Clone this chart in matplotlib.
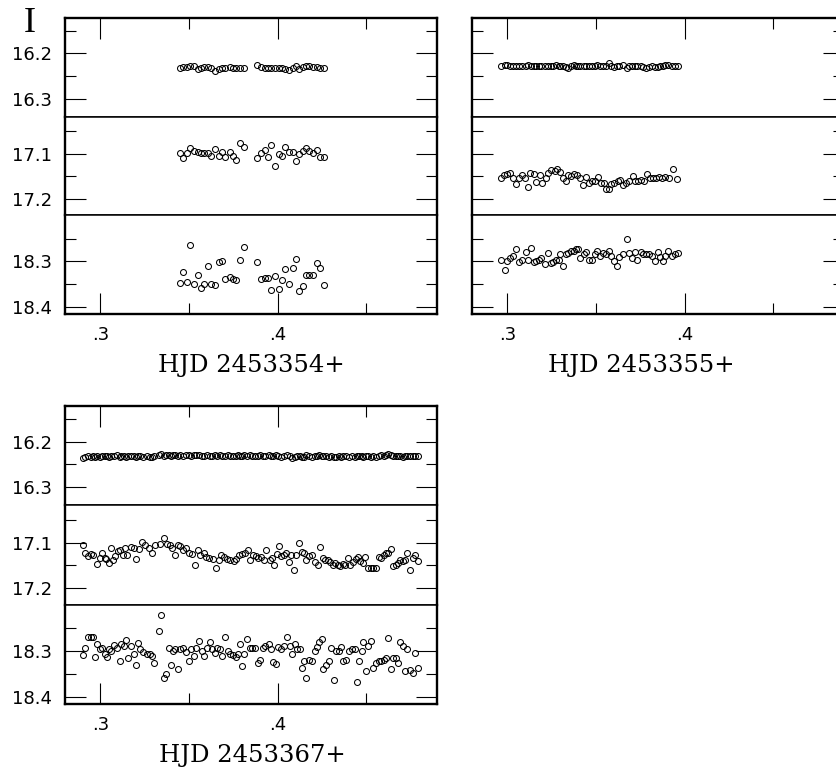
import matplotlib
matplotlib.use("Agg")
import matplotlib.pyplot as plt
from matplotlib.ticker import MultipleLocator, FixedLocator, FuncFormatter, NullFormatter

# ---------------- data ----------------
# Night 1: HJD 2453354+
n1_t = [0.3451, 0.3466, 0.3489, 0.3508, 0.3526, 0.3549, 0.3568, 0.3586, 0.3605, 0.3624,
        0.3648, 0.3667, 0.3686, 0.3705, 0.3729, 0.3748, 0.3767, 0.3786, 0.3808,
        0.3883, 0.3906, 0.3927, 0.3945, 0.3964, 0.3987, 0.4006, 0.4024, 0.4043, 0.4062,
        0.4085, 0.4103, 0.4122, 0.4143, 0.4162, 0.4180, 0.4199, 0.4222, 0.4241, 0.4263]
n1_star1 = [16.232, 16.231, 16.230, 16.228, 16.227, 16.235, 16.232, 16.231, 16.231, 16.233,
            16.238, 16.234, 16.232, 16.232, 16.231, 16.232, 16.232, 16.232, 16.232,
            16.226, 16.231, 16.232, 16.232, 16.232, 16.232, 16.233, 16.233, 16.234, 16.236,
            16.232, 16.229, 16.234, 16.230, 16.229, 16.229, 16.231, 16.231, 16.232, 16.232]
n1_star2 = [17.099, 17.110, 17.099, 17.087, 17.093, 17.097, 17.099, 17.099, 17.099, 17.106,
            17.090, 17.105, 17.097, 17.107, 17.097, 17.105, 17.113, 17.077, 17.086,
            17.109, 17.099, 17.091, 17.107, 17.081, 17.128, 17.101, 17.105, 17.084, 17.097,
            17.095, 17.117, 17.100, 17.093, 17.088, 17.093, 17.099, 17.092, 17.107, 17.107]
n1_star3 = [18.348, 18.324, 18.346, 18.263, 18.350, 18.330, 18.358, 18.350, 18.310, 18.350,
            18.352, 18.302, 18.299, 18.339, 18.335, 18.339, 18.341, 18.296, 18.268,
            18.302, 18.339, 18.337, 18.337, 18.363, 18.332, 18.361, 18.341, 18.316, 18.350,
            18.314, 18.294, 18.365, 18.355, 18.330, 18.330, 18.330, 18.304, 18.315, 18.352]

# Night 2: HJD 2453355+
n2_t = [0.2966, 0.2985, 0.2998, 0.3017, 0.3032, 0.3051, 0.3066, 0.3084, 0.3103, 0.3118,
        0.3133, 0.3148, 0.3163, 0.3178, 0.3191, 0.3210, 0.3229, 0.3244, 0.3257, 0.3272,
        0.3291, 0.3298, 0.3313, 0.3328, 0.3343, 0.3360, 0.3373, 0.3388, 0.3400, 0.3411,
        0.3430, 0.3445, 0.3460, 0.3475, 0.3493, 0.3508, 0.3524, 0.3539, 0.3557, 0.3572,
        0.3584, 0.3602, 0.3621, 0.3632, 0.3655, 0.3674, 0.3689, 0.3704, 0.3719, 0.3734,
        0.3752, 0.3767, 0.3782, 0.3797, 0.3816, 0.3831, 0.3848, 0.3861, 0.3876, 0.3891,
        0.3908, 0.3929, 0.3948, 0.3961]
n2_star1 = [16.228, 16.226, 16.225, 16.227, 16.228, 16.228, 16.228, 16.228, 16.227, 16.225,
            16.228, 16.228, 16.228, 16.228, 16.228, 16.228, 16.227, 16.228, 16.227, 16.225,
            16.228, 16.229, 16.229, 16.231, 16.233, 16.229, 16.226, 16.229, 16.229, 16.228,
            16.228, 16.228, 16.228, 16.227, 16.228, 16.226, 16.228, 16.228, 16.227, 16.222,
            16.227, 16.230, 16.228, 16.229, 16.225, 16.232, 16.229, 16.228, 16.228, 16.228,
            16.229, 16.231, 16.232, 16.230, 16.229, 16.230, 16.231, 16.229, 16.228, 16.226,
            16.226, 16.229, 16.228, 16.228]
n2_star3 = [18.296, 18.319, 18.298, 18.292, 18.287, 18.273, 18.301, 18.297, 18.279, 18.296,
            18.271, 18.301, 18.299, 18.296, 18.292, 18.305, 18.282, 18.303, 18.301, 18.296,
            18.297, 18.283, 18.310, 18.284, 18.281, 18.277, 18.276, 18.273, 18.273, 18.292,
            18.283, 18.279, 18.296, 18.297, 18.284, 18.277, 18.287, 18.282, 18.284, 18.276,
            18.288, 18.299, 18.310, 18.290, 18.283, 18.251, 18.281, 18.293, 18.279, 18.296,
            18.279, 18.284, 18.283, 18.284, 18.288, 18.299, 18.279, 18.290, 18.299, 18.288,
            18.277, 18.288, 18.283, 18.281]
n2_t2 = [0.2966, 0.2979, 0.2998, 0.3017, 0.3032, 0.3051, 0.3066, 0.3084, 0.3099, 0.3118,
         0.3130, 0.3148, 0.3163, 0.3182, 0.3197, 0.3216, 0.3231, 0.3248, 0.3266, 0.3281,
         0.3298, 0.3313, 0.3328, 0.3343, 0.3360, 0.3375, 0.3392, 0.3407, 0.3426, 0.3445,
         0.3460, 0.3475, 0.3493, 0.3510, 0.3529, 0.3544, 0.3557, 0.3572, 0.3587, 0.3602,
         0.3623, 0.3636, 0.3651, 0.3670, 0.3685, 0.3707, 0.3722, 0.3737, 0.3754, 0.3769,
         0.3790, 0.3805, 0.3824, 0.3839, 0.3857, 0.3872, 0.3891, 0.3910, 0.3933, 0.3955]
n2_star2 = [17.153, 17.147, 17.144, 17.142, 17.153, 17.167, 17.153, 17.147, 17.153, 17.174,
            17.143, 17.144, 17.162, 17.147, 17.164, 17.153, 17.143, 17.135, 17.137, 17.133,
            17.141, 17.153, 17.161, 17.146, 17.150, 17.144, 17.146, 17.153, 17.170, 17.152,
            17.164, 17.161, 17.161, 17.152, 17.164, 17.164, 17.178, 17.178, 17.167, 17.164,
            17.161, 17.159, 17.168, 17.164, 17.161, 17.150, 17.161, 17.161, 17.159, 17.161,
            17.144, 17.153, 17.153, 17.153, 17.152, 17.153, 17.152, 17.153, 17.133, 17.155]

# Night 3: HJD 2453367+
n3_t2 = [0.2900, 0.2915, 0.2929, 0.2944, 0.2959, 0.2981, 0.2996, 0.3009, 0.3023, 0.3034,
         0.3047, 0.3060, 0.3071, 0.3085, 0.3098, 0.3113, 0.3128, 0.3139, 0.3150, 0.3173,
         0.3188, 0.3203, 0.3218, 0.3235, 0.3254, 0.3273, 0.3291, 0.3310, 0.3335, 0.3357,
         0.3376, 0.3391, 0.3406, 0.3421, 0.3436, 0.3451, 0.3466, 0.3485, 0.3500, 0.3517,
         0.3536, 0.3549, 0.3564, 0.3583, 0.3598, 0.3615, 0.3633, 0.3654, 0.3667, 0.3680,
         0.3695, 0.3714, 0.3733, 0.3752, 0.3767, 0.3782, 0.3799, 0.3814, 0.3831, 0.3846,
         0.3861, 0.3876, 0.3891, 0.3906, 0.3921, 0.3936, 0.3955, 0.3968, 0.3981, 0.3996,
         0.4006, 0.4021, 0.4034, 0.4049, 0.4064, 0.4075, 0.4090, 0.4105, 0.4122, 0.4137,
         0.4152, 0.4162, 0.4180, 0.4195, 0.4212, 0.4231, 0.4241, 0.4256, 0.4269, 0.4284,
         0.4297, 0.4312, 0.4325, 0.4340, 0.4353, 0.4368, 0.4382, 0.4395, 0.4410, 0.4425,
         0.4440, 0.4453, 0.4466, 0.4481, 0.4496, 0.4511, 0.4526, 0.4541, 0.4556, 0.4571,
         0.4585, 0.4598, 0.4613, 0.4626, 0.4639, 0.4654, 0.4669, 0.4682, 0.4692, 0.4707,
         0.4720, 0.4733, 0.4748, 0.4763, 0.4776, 0.4795]
n3_star2 = [17.106, 17.122, 17.130, 17.124, 17.127, 17.147, 17.133, 17.122, 17.133, 17.135,
            17.144, 17.111, 17.139, 17.130, 17.119, 17.117, 17.127, 17.111, 17.127, 17.110,
            17.111, 17.135, 17.113, 17.098, 17.105, 17.111, 17.122, 17.104, 17.102, 17.089,
            17.102, 17.105, 17.111, 17.126, 17.105, 17.107, 17.117, 17.111, 17.122, 17.124,
            17.148, 17.117, 17.126, 17.122, 17.132, 17.133, 17.135, 17.156, 17.137, 17.127,
            17.132, 17.135, 17.139, 17.141, 17.135, 17.127, 17.124, 17.122, 17.117, 17.139,
            17.127, 17.130, 17.133, 17.132, 17.137, 17.117, 17.137, 17.133, 17.148, 17.124,
            17.107, 17.130, 17.127, 17.122, 17.142, 17.127, 17.159, 17.126, 17.100, 17.120,
            17.122, 17.137, 17.130, 17.126, 17.142, 17.150, 17.110, 17.133, 17.137, 17.139,
            17.142, 17.148, 17.144, 17.150, 17.152, 17.147, 17.150, 17.133, 17.148, 17.142,
            17.135, 17.132, 17.141, 17.144, 17.132, 17.156, 17.156, 17.156, 17.156, 17.132,
            17.133, 17.126, 17.122, 17.122, 17.113, 17.152, 17.148, 17.144, 17.139, 17.141,
            17.137, 17.122, 17.159, 17.133, 17.126, 17.141]
n3_t = [0.2900, 0.2915, 0.2929, 0.2944, 0.2959, 0.2968, 0.2981, 0.2996, 0.3009, 0.3023,
        0.3038, 0.3047, 0.3060, 0.3075, 0.3094, 0.3109, 0.3117, 0.3132, 0.3147, 0.3156,
        0.3173, 0.3188, 0.3199, 0.3212, 0.3226, 0.3241, 0.3263, 0.3278, 0.3291, 0.3305,
        0.3329, 0.3344, 0.3357, 0.3372, 0.3385, 0.3398, 0.3410, 0.3421, 0.3436, 0.3451,
        0.3466, 0.3481, 0.3498, 0.3511, 0.3526, 0.3541, 0.3558, 0.3571, 0.3586, 0.3602,
        0.3617, 0.3630, 0.3645, 0.3658, 0.3673, 0.3686, 0.3705, 0.3718, 0.3733, 0.3748,
        0.3763, 0.3776, 0.3786, 0.3801, 0.3812, 0.3827, 0.3842, 0.3857, 0.3874, 0.3887,
        0.3902, 0.3917, 0.3930, 0.3949, 0.3964, 0.3977, 0.3989, 0.4004, 0.4019, 0.4034,
        0.4053, 0.4068, 0.4083, 0.4096, 0.4109, 0.4128, 0.4137, 0.4152, 0.4162, 0.4180,
        0.4197, 0.4209, 0.4222, 0.4235, 0.4248, 0.4259, 0.4274, 0.4288, 0.4301, 0.4316,
        0.4329, 0.4344, 0.4357, 0.4372, 0.4387, 0.4406, 0.4419, 0.4438, 0.4447, 0.4462,
        0.4474, 0.4485, 0.4500, 0.4511, 0.4526, 0.4541, 0.4555, 0.4570, 0.4583, 0.4598,
        0.4613, 0.4626, 0.4639, 0.4654, 0.4669, 0.4682, 0.4692, 0.4707, 0.4720, 0.4733,
        0.4748, 0.4763, 0.4776, 0.4795]
n3_star1 = [16.236, 16.233, 16.232, 16.233, 16.232, 16.233, 16.231, 16.233, 16.232, 16.231,
            16.232, 16.233, 16.231, 16.232, 16.230, 16.233, 16.231, 16.232, 16.233, 16.231,
            16.232, 16.231, 16.233, 16.232, 16.231, 16.234, 16.232, 16.233, 16.234, 16.232,
            16.230, 16.228, 16.231, 16.229, 16.230, 16.231, 16.229, 16.230, 16.232, 16.230,
            16.231, 16.230, 16.229, 16.231, 16.230, 16.229, 16.230, 16.232, 16.231, 16.230,
            16.231, 16.232, 16.230, 16.231, 16.230, 16.232, 16.231, 16.230, 16.231, 16.232,
            16.231, 16.230, 16.232, 16.231, 16.230, 16.231, 16.230, 16.231, 16.232, 16.231,
            16.230, 16.231, 16.231, 16.230, 16.232, 16.231, 16.230, 16.231, 16.233, 16.231,
            16.230, 16.232, 16.236, 16.233, 16.231, 16.232, 16.234, 16.233, 16.230, 16.232,
            16.233, 16.231, 16.232, 16.230, 16.232, 16.231, 16.232, 16.233, 16.232, 16.234,
            16.233, 16.232, 16.233, 16.232, 16.231, 16.233, 16.232, 16.233, 16.232, 16.231,
            16.232, 16.233, 16.232, 16.231, 16.233, 16.232, 16.233, 16.232, 16.230, 16.231,
            16.229, 16.228, 16.230, 16.231, 16.232, 16.231, 16.232, 16.233, 16.231, 16.232,
            16.231, 16.232, 16.231, 16.232]
n3_star3 = [18.309, 18.294, 18.269, 18.270, 18.270, 18.313, 18.284, 18.296, 18.294, 18.307,
            18.313, 18.296, 18.300, 18.287, 18.293, 18.322, 18.285, 18.289, 18.276, 18.316,
            18.289, 18.306, 18.331, 18.283, 18.296, 18.301, 18.307, 18.306, 18.311, 18.326,
            18.256, 18.220, 18.359, 18.350, 18.294, 18.331, 18.299, 18.296, 18.340, 18.296,
            18.294, 18.301, 18.321, 18.296, 18.311, 18.294, 18.278, 18.299, 18.311, 18.293,
            18.279, 18.296, 18.304, 18.293, 18.296, 18.311, 18.269, 18.300, 18.306, 18.309,
            18.313, 18.307, 18.285, 18.333, 18.307, 18.274, 18.293, 18.294, 18.294, 18.326,
            18.319, 18.294, 18.289, 18.284, 18.296, 18.324, 18.328, 18.291, 18.296, 18.289,
            18.269, 18.289, 18.307, 18.285, 18.296, 18.296, 18.337, 18.321, 18.359, 18.319,
            18.321, 18.299, 18.291, 18.281, 18.274, 18.339, 18.331, 18.321, 18.294, 18.363,
            18.299, 18.299, 18.291, 18.321, 18.319, 18.299, 18.296, 18.296, 18.368, 18.322,
            18.300, 18.281, 18.343, 18.289, 18.278, 18.337, 18.326, 18.322, 18.321, 18.319,
            18.316, 18.272, 18.339, 18.316, 18.316, 18.326, 18.279, 18.289, 18.343, 18.296,
            18.341, 18.348, 18.304, 18.337]

x_labels = ["HJD 2453354+", "HJD 2453355+", "HJD 2453367+"]
y_title = "I"

# ---------------- layout / style ----------------
W, H = 837, 769
fig = plt.figure(figsize=(W / 100, H / 100), dpi=100)

YLIMS = [(16.340, 16.122), (17.236, 17.018), (18.416, 18.198)]
YMAJ = [[16.2, 16.3], [17.1, 17.2], [18.3, 18.4]]
YMIN = [[16.15, 16.25, 16.35], [17.05, 17.15], [18.25, 18.35]]
XLIM = (0.28, 0.49)

xfmt = FuncFormatter(lambda v, p: ("%.1f" % v).lstrip("0"))
yfmt = FuncFormatter(lambda v, p: "%.1f" % v)


def make_panel(box, series, show_ylab):
    l, t, r, b = box
    h = (b - t) / 3.0
    for i in range(3):
        top = t + i * h
        ax = fig.add_axes([l / W, 1 - (top + h) / H, (r - l) / W, h / H])
        ts, ms = series[i]
        ax.plot(ts, ms, linestyle="none", marker="o", mfc="none", mec="black",
                ms=4.3, mew=0.75)
        ax.set_xlim(*XLIM)
        ax.set_ylim(*YLIMS[i])
        ax.yaxis.set_major_locator(FixedLocator(YMAJ[i]))
        ax.yaxis.set_minor_locator(FixedLocator(YMIN[i]))
        ax.xaxis.set_major_locator(MultipleLocator(0.1))
        ax.xaxis.set_minor_locator(MultipleLocator(0.05))
        ax.yaxis.set_major_formatter(yfmt if show_ylab else NullFormatter())
        ax.xaxis.set_major_formatter(xfmt if i == 2 else NullFormatter())
        ax.tick_params(which="both", direction="in", left=True, right=True,
                       top=(i == 0), bottom=(i == 2), width=0.8,
                       labelleft=show_ylab, labelbottom=(i == 2),
                       labelsize=13, pad=9)
        ax.tick_params(which="major", length=15)
        ax.tick_params(which="minor", length=8)
        for side in ("left", "right"):
            ax.spines[side].set_linewidth(1.7)
        ax.spines["top"].set_linewidth(1.7 if i == 0 else 1.1)
        ax.spines["bottom"].set_linewidth(1.7 if i == 2 else 1.1)


make_panel((65, 18, 437, 314),
           [(n1_t, n1_star1), (n1_t, n1_star2), (n1_t, n1_star3)], True)
make_panel((472, 18, 844, 314),
           [(n2_t, n2_star1), (n2_t2, n2_star2), (n2_t, n2_star3)], False)
make_panel((65, 406, 437, 704),
           [(n3_t, n3_star1), (n3_t2, n3_star2), (n3_t, n3_star3)], True)

fig.text(30 / W, 1 - 32 / H, y_title, family="Liberation Serif", size=26,
         ha="center", va="baseline")
for (cx, by), lab in zip([(251, 372), (641, 372), (252, 762)], x_labels):
    fig.text(cx / W, 1 - by / H, lab, family="DejaVu Serif", size=17.5,
             ha="center", va="baseline")

fig.savefig("out.png", dpi=100)
